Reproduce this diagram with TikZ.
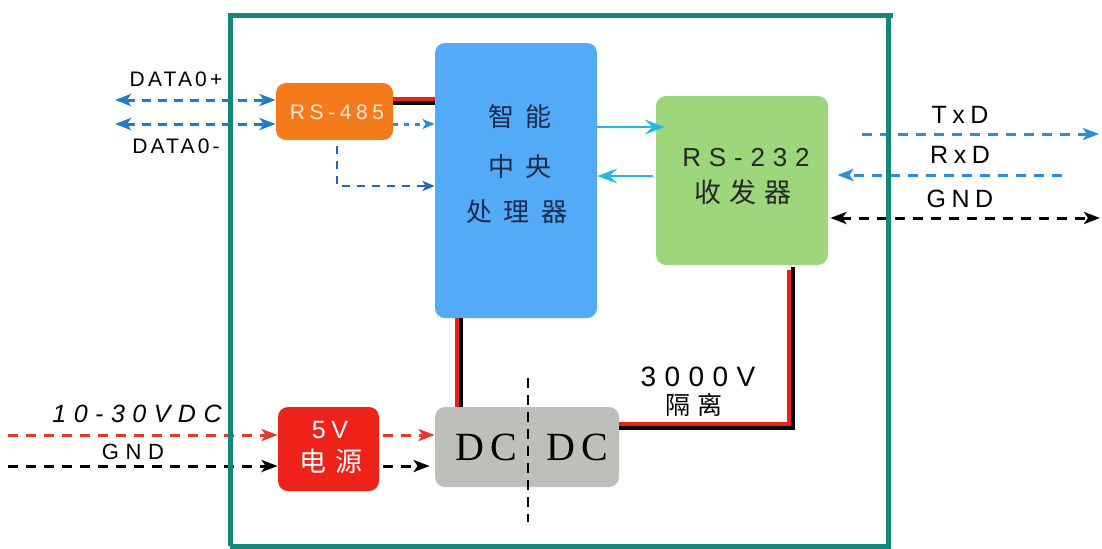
\documentclass[tikz,border=0pt]{standalone}
\usepackage{fontspec}
\setmainfont{Liberation Sans}
\newfontfamily\lsA[LetterSpace=15]{Liberation Sans}
\newfontfamily\lsB[LetterSpace=22]{Liberation Sans}
\newfontfamily\lsC[LetterSpace=30]{Liberation Sans}
\newfontfamily\cjkA[LetterSpace=45]{Noto Sans CJK SC}
\newfontfamily\cjkB[LetterSpace=30]{Noto Sans CJK SC}
\newfontfamily\dcfont[LetterSpace=15]{Liberation Serif}
\usetikzlibrary{arrows.meta}
\definecolor{framec}{HTML}{12877A}
\definecolor{orangebox}{HTML}{F57A1C}
\definecolor{cpublue}{HTML}{53AAF6}
\definecolor{greenbox}{HTML}{9ED67B}
\definecolor{redbox}{HTML}{EE2218}
\definecolor{graybox}{HTML}{BEBFBA}
\definecolor{datablue}{HTML}{1F7CCB}
\definecolor{txblue}{HTML}{2A8EDA}
\definecolor{navyline}{HTML}{2466B2}
\definecolor{cyanarr}{HTML}{26B7E2}
\definecolor{wirered}{HTML}{E8211B}
\definecolor{dashred}{HTML}{E33A2C}
\definecolor{cputext}{HTML}{1A2B4E}
\definecolor{rstext}{HTML}{FCE9D6}
\begin{document}
\begin{tikzpicture}[x=0.5pt,y=-0.5pt,
  box/.style={rounded corners=5pt, inner sep=0pt, draw=none},
  txt/.style={inner sep=0pt},
  tipA/.tip={Stealth[length=8pt,width=6pt,inset=2pt]},
  tipC/.tip={Stealth[length=10pt,width=7.5pt,inset=4pt]},
  dataline/.style={datablue, line width=1.5pt, dash pattern=on 4.5pt off 3.5pt},
  dotline/.style={txblue, line width=1.5pt, dash pattern=on 2.5pt off 3pt},
  navydash/.style={navyline, line width=1.2pt, dash pattern=on 4pt off 3.5pt},
  txline/.style={txblue, line width=1.5pt, dash pattern=on 5pt off 4pt},
  blackdash/.style={black, line width=1.5pt, dash pattern=on 5pt off 4pt},
  reddash/.style={dashred, line width=1.5pt, dash pattern=on 5pt off 4pt},
  cyanline/.style={cyanarr, line width=1.4pt},
  redwire/.style={wirered, line width=2pt},
  blackwire/.style={black, line width=2pt},
  isodash/.style={black, line width=1.4pt, dash pattern=on 5pt off 3.5pt},
  frameline/.style={framec, line width=2.5pt}]
\useasboundingbox[fill=white] (0,0) rectangle (1102,548);

% boxes
\node[box, fill=orangebox, minimum width=58.5pt, minimum height=28.5pt] (rs485) at (334.5,111.5) {};
\node[box, fill=cpublue, minimum width=81pt, minimum height=137.5pt] (cpu) at (516,180.5) {};
\node[box, fill=greenbox, minimum width=86pt, minimum height=84.5pt] (rs232) at (742,180.5) {};
\node[box, fill=redbox, minimum width=50.5pt, minimum height=42pt] (psu) at (328.5,449) {};
\node[box, fill=graybox, minimum width=92pt, minimum height=40pt] (dcdc) at (527,447) {};

% box texts
\node[txt, text=rstext, font=\lsB\fontsize{10.5}{12}\selectfont] (t485) at (337,112) {RS-485};
\node[txt, text=cputext, font=\cjkA\fontsize{13}{15}\selectfont] (cpu1) at (520,117) {智能};
\node[txt, text=cputext, font=\cjkA\fontsize{13}{15}\selectfont] (cpu2) at (520,167) {中央};
\node[txt, text=cputext, font=\cjkA\fontsize{13}{15}\selectfont] (cpu3) at (517,212) {处理器};
\node[txt, text=black!85, font=\lsC\fontsize{13}{15}\selectfont] (t232a) at (746,158) {RS-232};
\node[txt, text=black!85, font=\cjkB\fontsize{13.5}{15}\selectfont] (t232b) at (743,192) {收发器};
\node[txt, text=white, font=\lsB\fontsize{12.5}{14}\selectfont] (t5v) at (330,430) {5V};
\node[txt, text=white, font=\cjkB\fontsize{13.5}{15}\selectfont] (tpsu) at (331,461) {电源};
\node[txt, text=black, font=\dcfont\fontsize{20}{22}\selectfont] (tdc1) at (486,447) {DC};
\node[txt, text=black, font=\dcfont\fontsize{20}{22}\selectfont] (tdc2) at (577,447) {DC};

% labels
\node[txt, font=\lsA\fontsize{10.5}{12}\selectfont] (ldp) at (176,79) {DATA0+};
\node[txt, font=\lsA\fontsize{10.5}{12}\selectfont] (ldm) at (176,146) {DATA0-};
\node[txt, font=\lsB\fontsize{12.5}{14}\selectfont] (ltx) at (960,115) {TxD};
\node[txt, font=\lsB\fontsize{12.5}{14}\selectfont] (lrx) at (960,155) {RxD};
\node[txt, font=\lsB\fontsize{12.5}{14}\selectfont] (lgr) at (960,199) {GND};
\node[txt, font=\lsC\itshape\fontsize{12.5}{14}\selectfont] (lvin) at (137,414) {10-30VDC};
\node[txt, font=\lsC\fontsize{11}{13}\selectfont] (lgl) at (133,452) {GND};
\node[txt, font=\lsC\fontsize{14}{16}\selectfont] (liso1) at (698,377) {3000V};
\node[txt, font=\cjkB\fontsize{12.5}{14}\selectfont] (liso2) at (694,405) {隔离};

% DATA lines
\coordinate (dp) at (115,100);
\coordinate (dm) at (115,124);
\draw[dataline, tipA-tipA] (dp) -- (dp -| rs485.west);
\draw[dataline, tipA-tipA] (dm) -- (dm -| rs485.west);

% RS-485 to CPU
\draw[redwire] (rs485.east |- 0,99) -- (cpu.west |- 0,99);
\draw[blackwire] (rs485.east |- 0,103) -- (cpu.west |- 0,103);
\draw[dotline, -{Stealth[length=6pt,width=5pt,inset=1.5pt]}] (rs485.east |- 0,124) -- (cpu.west |- 0,124);
\draw[navydash, -{Stealth[length=6pt,width=5pt,inset=1.5pt]}] (rs485.south -| 337,0) ++(0,6) |- (cpu.west |- 0,186);

% CPU <-> RS-232
\path (rs232.west |- 0,127) ++(9,0) coordinate (c1t);
\draw[cyanline, -tipC] (cpu.east |- c1t) -- (c1t);
\path (rs232.west |- 0,176) ++(-3,0) coordinate (c2s);
\draw[cyanline, -tipC] (c2s) -- (cpu.east |- c2s);

% RS-232 outside lines
\coordinate (txs) at (862,134);
\coordinate (txe) at (1099,134);
\draw[txline, -tipA] (txs) -- (txe);
\coordinate (rxs) at (1062,175);
\path (rs232.east |- rxs) ++(9,0) coordinate (rxt);
\draw[txline, -tipA] (rxs) -- (rxt);
\coordinate (ge) at (1100,218);
\path (rs232.east |- ge) ++(2,0) coordinate (gs);
\draw[blackdash, tipA-tipA] (gs) -- (ge);

% power wires
\draw[redwire] (cpu.south -| 457,0) -- (dcdc.north -| 457,0);
\draw[blackwire] (cpu.south -| 461,0) -- (dcdc.north -| 461,0);
\path (rs232.south -| 793,0) ++(0,2) coordinate (bw);
\path (rs232.south -| 789,0) ++(0,5) coordinate (rw);
\draw[blackwire] (bw) |- (dcdc.east |- 0,428);
\draw[redwire] (rw) |- (dcdc.east |- 0,424);

% power input
\coordinate (vin) at (8,435);
\coordinate (gin) at (8,466);
\draw[reddash, -tipA] (vin) -- (vin -| psu.west);
\draw[blackdash, -tipA] (gin) -- (gin -| psu.west);
\path (psu.east |- vin) ++(4,0) coordinate (v2);
\path (psu.east |- gin) ++(4,0) coordinate (g2);
\draw[reddash, -tipA] (v2) -- (dcdc.west |- vin);
\draw[blackdash, -tipA, shorten >=2.5pt] (g2) -- (dcdc.west |- gin);

% isolation
\coordinate (iso1) at (528,378);
\coordinate (iso2) at (528,522);
\draw[isodash] (iso1) -- (iso2);

% frame
\draw[frameline] (230,546) -- (230,15) -- (893,15);
\draw[frameline] (888,15) -- (888,546) -- (230,546);
\end{tikzpicture}
\end{document}
